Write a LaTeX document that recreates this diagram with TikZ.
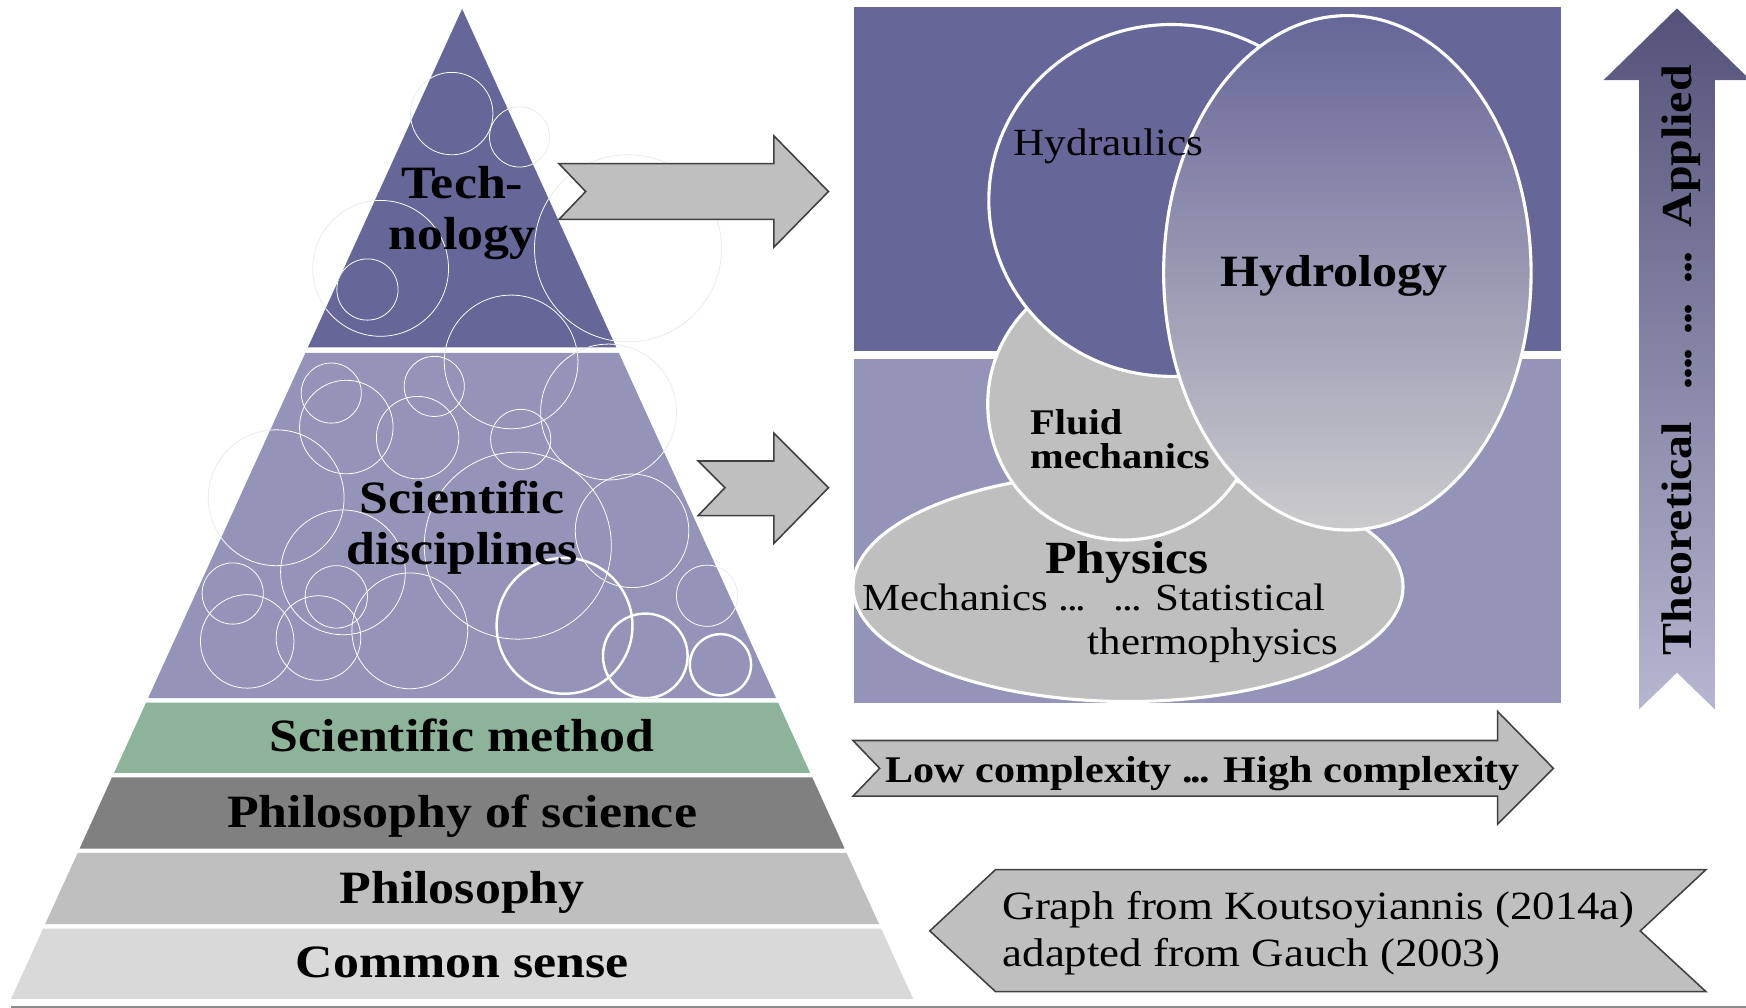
\documentclass[tikz,border=0pt]{standalone}
\usepackage{fontspec}
\setmainfont{Liberation Serif}[FakeStretch=1.12]
\definecolor{techc}{HTML}{666699}
\definecolor{scic}{HTML}{9494B8}
\definecolor{methc}{HTML}{8DB49A}
\definecolor{philsc}{HTML}{808080}
\definecolor{philc}{HTML}{BFBFBF}
\definecolor{commc}{HTML}{D9D9D9}
\definecolor{arrowc}{HTML}{BFBFBF}
\definecolor{edgec}{HTML}{404040}
\definecolor{faintc}{HTML}{EBEBEB}
\definecolor{hydlow}{HTML}{CBCBCD}
\definecolor{hydmid}{HTML}{9292AE}
\definecolor{vtop}{HTML}{53537A}
\definecolor{vbot}{HTML}{B6B6D1}
\definecolor{linec}{HTML}{8C8C8C}
\newcommand{\tdots}{.\kern-1pt.\kern-1pt.}
\newcommand{\qdots}{.\kern-1pt.\kern-1pt.\kern-1pt.}
\begin{document}
\begin{tikzpicture}[x=0.5pt,y=-0.5pt,
  layertext/.style={font=\bfseries\fontsize{20.8pt}{23pt}\selectfont, anchor=base, align=center, inner sep=0pt},
  blockarrow/.style={fill=arrowc, draw=edgec, line width=0.7pt, line join=miter},
  blob/.style={draw=white, line width=1.4pt},
  bubble/.style={draw=white, line width=0.35pt},
  boldbubble/.style={draw=white, line width=1.1pt},
  faintbubble/.style={draw=faintc, line width=0.35pt},
  plain/.style={font=\fontsize{17.2pt}{20pt}\selectfont, inner sep=0pt},
]
\useasboundingbox (0,0) rectangle (1568,905);
\fill[white] (0,0) rectangle (1568,905);

% faint bubbles (visible outside the pyramid)
\foreach \cx/\cy/\r in {405.7/102/37, 466.6/123/27, 341.8/241/61, 330/260/27.5, 459/325/60, 564/223/84,
  297.5/353/27, 311/383.5/42, 390/347/27, 375/393/37, 467.6/394.6/27, 546.5/370/61, 248/447/61,
  465/490/84, 567.6/476.7/51, 308/514/56, 209/533/27.5, 302/536/28, 222/576/42, 286/573/38,
  368/566.5/52, 635/535/27.5}
  \draw[faintbubble] (\cx,\cy) circle[radius=\r];

% pyramid layers
\fill[techc] (415,8) -- (553.5,312) -- (276.5,312) -- cycle;
\fill[scic] (274.2,317) -- (555.8,317) -- (697,627) -- (133,627) -- cycle;
\fill[methc] (131.2,631) -- (698.8,631) -- (727.5,694) -- (102.5,694) -- cycle;
\fill[philsc] (100.6,698) -- (729.4,698) -- (758.5,762) -- (71.5,762) -- cycle;
\fill[philc] (69.7,766) -- (760.3,766) -- (789.5,830) -- (40.5,830) -- cycle;
\fill[commc] (38.7,834) -- (791.3,834) -- (820,897) -- (10,897) -- cycle;

% bubbles inside
\begin{scope}
\clip (415,8) -- (553.5,312) -- (276.5,312) -- cycle
      (274.2,317) -- (555.8,317) -- (697,627) -- (133,627) -- cycle;
\foreach \cx/\cy/\r in {405.7/102/37, 466.6/123/27, 341.8/241/61, 330/260/27.5, 459/325/60, 564/223/84,
  297.5/353/27, 311/383.5/42, 390/347/27, 375/393/37, 467.6/394.6/27, 546.5/370/61, 248/447/61,
  465/490/84, 567.6/476.7/51, 308/514/56, 209/533/27.5, 302/536/28, 222/576/42, 286/573/38,
  368/566.5/52, 635/535/27.5}
  \draw[bubble] (\cx,\cy) circle[radius=\r];
\foreach \cx/\cy/\r in {507/562/61, 579.5/589/38, 647/597/27.5}
  \draw[boldbubble] (\cx,\cy) circle[radius=\r];
\end{scope}

% pyramid labels
\node[layertext] (tech) at (415,224) {Tech-\\nology};
\node[layertext] (disc) at (415,507) {Scientific\\disciplines};
\node[layertext] (method) at (415,675) {Scientific method};
\node[layertext] (philsci) at (415,743) {Philosophy of science};
\node[layertext] (phil) at (415,811) {Philosophy};
\node[layertext] (common) at (415,878) {Common sense};

% block arrows from pyramid
\draw[blockarrow] (502,147) -- (695,147) -- (695,122) -- (744,172) -- (695,222) -- (695,197) -- (502,197) -- (526,172) -- cycle;
\draw[blockarrow] (627,414) -- (695,414) -- (695,389) -- (744,438) -- (695,488) -- (695,463) -- (627,463) -- (651,438) -- cycle;

% right panel
\fill[techc] (767,6) rectangle (1402,315.5);
\fill[scic] (767,322) rectangle (1402,631);
\filldraw[fill=philc, blob] (1013,527) ellipse [x radius=247, y radius=103];
\filldraw[fill=philc, blob] (1009,363) circle[radius=122];
\filldraw[fill=techc, blob] (1052,180) ellipse [x radius=164, y radius=158];
\shadedraw[top color=techc, middle color=hydmid, bottom color=hydlow, blob] (1210,245) ellipse [x radius=165, y radius=231];

\node[font=\fontsize{17.3pt}{20pt}\selectfont, anchor=base west, inner sep=0pt] (hydraulics) at (910,140) {Hydraulics};
\node[font=\bfseries\fontsize{20.1pt}{23pt}\selectfont, anchor=base, inner sep=0pt] (hydrology) at (1198,257.7) {Hydrology};
\node[font=\bfseries\fontsize{16.2pt}{15.5pt}\selectfont, anchor=base west, align=left, inner sep=0pt] (fluid) at (924.7,421) {Fluid\\mechanics};
\node[font=\bfseries\fontsize{20.7pt}{23pt}\selectfont, anchor=base, inner sep=0pt] (physics) at (1012,515.4) {Physics};
\node[plain, anchor=base west] (mech) at (774,548.4) {Mechanics \tdots};
\node[plain, anchor=base west] (stat) at (1000,548.4) {\tdots{} Statistical};
\node[plain, anchor=base west] (thermo) at (976.5,587.5) {thermophysics};

% complexity arrow
\draw[blockarrow] (766,665) -- (1345,665) -- (1345,639) -- (1395,690) -- (1345,740) -- (1345,715) -- (766,715) -- (790,690) -- cycle;
\node[font=\bfseries\fontsize{16.9pt}{20pt}\selectfont, anchor=base, inner sep=0pt] (complexity) at (1080,702.5) {Low complexity \tdots{} High complexity};

% credit chevron
\draw[blockarrow] (894,781) -- (1532,781) -- (1473,836) -- (1532,890.5) -- (894,890.5) -- (835,836) -- cycle;
\node[font=\fontsize{18pt}{21pt}\selectfont, anchor=base west, align=left, inner sep=0pt] (credit) at (900,868) {Graph from Koutsoyiannis (2014a)\\adapted from Gauch (2003)};

% vertical arrow
\shade[top color=vtop, bottom color=vbot] (1506,7.5) -- (1572,72) -- (1540,72) -- (1540,637) -- (1506,604) -- (1472,637) -- (1472,72) -- (1440,72) -- cycle;
\node[font=\bfseries\fontsize{19.2pt}{22pt}\selectfont, rotate=90, anchor=base, inner sep=0pt] (axis) at (1519,323.5)
  {\makebox[265pt][l]{Theoretical\hspace{\stretch{3.6}}\qdots\hspace{\stretch{1.5}}\tdots\hspace{\stretch{2.2}}\tdots\hspace{\stretch{2.7}}Applied}};

% bottom rule
\draw[linec, line width=1pt] (10,904) -- (1568,904);
\end{tikzpicture}
\end{document}
